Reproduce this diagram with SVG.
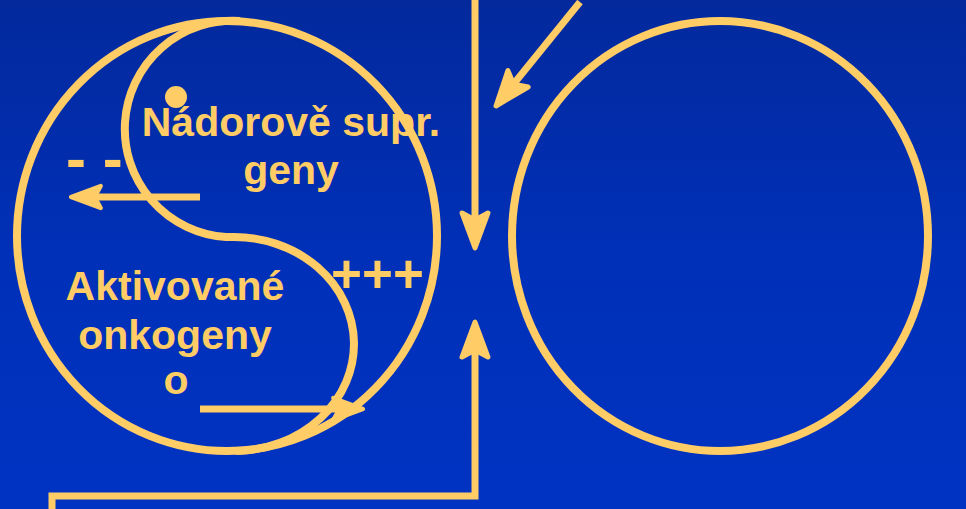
<svg xmlns="http://www.w3.org/2000/svg" xmlns:xlink="http://www.w3.org/1999/xlink" width="966" height="509" viewBox="0 0 966 509">
<defs>
<linearGradient id="bg" x1="0" y1="0" x2="0" y2="1">
<stop offset="0" stop-color="#03299c"/>
<stop offset="0.5" stop-color="#0030b8"/>
<stop offset="1" stop-color="#0033c2"/>
</linearGradient>
<path id="ah" d="M0,0 L-35,-13 L-28,0 L-35,13 Z" class="head"/>
</defs>
<style>
.ln{fill:none;stroke:#FFCC66;stroke-width:8}
.cn{fill:none;stroke:#FFCC66;stroke-width:7}
.head{fill:#FFCC66;stroke:#FFCC66;stroke-width:5;stroke-linejoin:round}
.t{font-family:"Liberation Sans",Arial,sans-serif;font-weight:bold;fill:#FFCC66}
</style>
<rect width="966" height="509" fill="url(#bg)"/>
<g id="cell-left">
<ellipse class="ln" cx="227" cy="236" rx="210" ry="215"/>
<path class="ln" d="M240,21 A108,108 0 0 0 226,237 H232 A120,107 0 0 1 236,451"/>
<circle cx="176" cy="97" r="11" fill="#FFCC66"/>
<text class="t" x="291" y="136" font-size="41" text-anchor="middle">Nádorově supr.</text>
<text class="t" x="291" y="184" font-size="41" text-anchor="middle">geny</text>
<text class="t" x="175" y="300" font-size="41" text-anchor="middle">Aktivované</text>
<text class="t" x="175" y="349" font-size="41" text-anchor="middle">onkogeny</text>
<text class="t" x="176" y="394" font-size="41" text-anchor="middle">o</text>
<text class="t" x="66" y="179" font-size="60">- -</text>
<text class="t" x="331" y="292" font-size="53">+++</text>
</g>
<g id="cell-right">
<ellipse class="ln" cx="720" cy="236" rx="208" ry="215"/>
</g>
<g id="connectors">
<path class="cn" d="M475,0 V220"/>
<use xlink:href="#ah" transform="translate(475,248) rotate(90)"/>
<path class="cn" d="M52,509 V496 H475 V350"/>
<use xlink:href="#ah" transform="translate(475,322) rotate(-90)"/>
<path class="cn" d="M580,2 L512,86"/>
<use xlink:href="#ah" transform="translate(496,106) rotate(129)"/>
<path class="cn" d="M200,197 H92"/>
<use xlink:href="#ah" transform="translate(71,197) rotate(180) scale(0.85)"/>
<path class="cn" d="M200,409 H340"/>
<use xlink:href="#ah" transform="translate(363,409) scale(0.85)"/>
</g>
</svg>
